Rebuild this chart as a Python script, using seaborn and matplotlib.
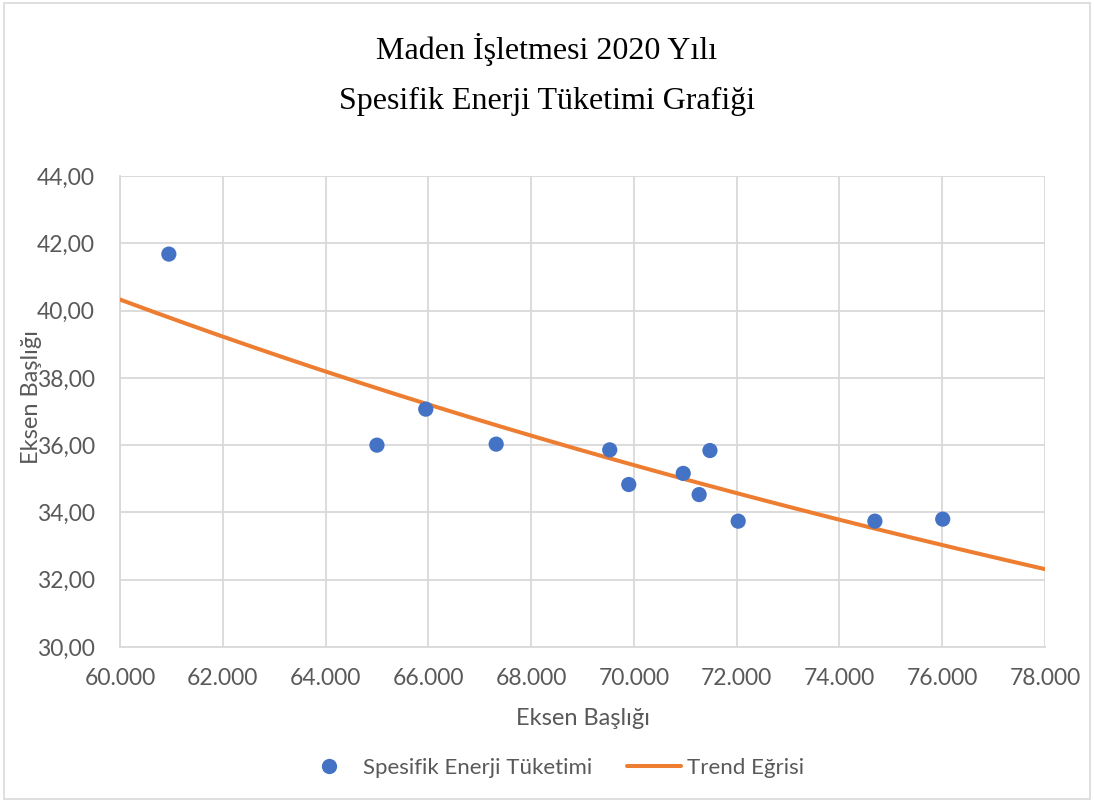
import numpy as np
import pandas as pd
import matplotlib
matplotlib.use("Agg")
import matplotlib.pyplot as plt
import seaborn as sns
from matplotlib.ticker import FuncFormatter, MultipleLocator
from matplotlib.lines import Line2D
from matplotlib.patches import Rectangle

# Monthly production (x) and specific energy consumption (y)
uretim = [60950, 65000, 65950, 67320, 69530, 69900, 70960, 71270, 71480, 72030, 74690, 76010]
spesifik_enerji = [41.68, 36.00, 37.07, 36.03, 35.86, 34.83, 35.16, 34.53, 35.84, 33.74, 33.74, 33.80]

baslik = "Maden İşletmesi 2020 Yılı\nSpesifik Enerji Tüketimi Grafiği"
seri_adi = "Spesifik Enerji Tüketimi"
trend_adi = "Trend Eğrisi"
eksen_basligi = "Eksen Başlığı"

sns.set_theme(style="white")
plt.rcParams["font.family"] = ["Lato", "DejaVu Sans"]

BLUE = "#4472C4"
ORANGE = "#ED7D31"
GRID = "#D9D9D9"
TXT = "#595959"

df = pd.DataFrame({"x": uretim, "y": spesifik_enerji})

# Power trend line (y = a * x^b) fitted in log-log space, extended over the whole axis
b, ln_a = np.polyfit(np.log(df["x"]), np.log(df["y"]), 1)
tx = np.linspace(60000, 78000, 200)
trend = pd.DataFrame({"x": tx, "y": np.exp(ln_a) * tx ** b})

fig = plt.figure(figsize=(10.94, 8.02), dpi=100)
ax = fig.add_axes([0.1097, 0.1933, 0.8455, 0.5872])

sns.lineplot(data=trend, x="x", y="y", ax=ax, color=ORANGE, linewidth=2.9,
             zorder=3, legend=False)
sns.scatterplot(data=df, x="x", y="y", ax=ax, color=BLUE, s=120,
                edgecolor="none", zorder=4, legend=False)

ax.set_xlim(60000, 78000)
ax.set_ylim(30, 44)
ax.xaxis.set_major_locator(MultipleLocator(2000))
ax.yaxis.set_major_locator(MultipleLocator(2))
ax.xaxis.set_major_formatter(FuncFormatter(lambda v, p: f"{v:,.0f}".replace(",", ".")))
ax.yaxis.set_major_formatter(FuncFormatter(lambda v, p: f"{v:.2f}".replace(".", ",")))
ax.grid(True, color=GRID, linewidth=1.3)
ax.set_axisbelow(True)
for side in ["top", "right"]:
    ax.spines[side].set_visible(False)
for side in ["left", "bottom"]:
    ax.spines[side].set_color(GRID)
    ax.spines[side].set_linewidth(1.3)
ax.tick_params(axis="both", length=0, labelsize=16.5, labelcolor=TXT)
ax.tick_params(axis="y", pad=18)
ax.tick_params(axis="x", pad=15)

ax.set_xlabel(eksen_basligi, fontsize=17, color=TXT, labelpad=14)
ax.set_ylabel(eksen_basligi, fontsize=17, color=TXT)
ax.yaxis.set_label_coords(-0.084, 0.531)

fig.text(0.5, 0.907, baslik, ha="center", va="center", fontsize=23,
         family=["Liberation Serif", "DejaVu Serif"], color="black", linespacing=1.98)

handles = [
    Line2D([], [], marker="o", linestyle="none", markersize=11,
           markerfacecolor=BLUE, markeredgecolor="none"),
    Line2D([], [], color=ORANGE, linewidth=2.9),
]
fig.legend(handles, [seri_adi, trend_adi], loc="center", bbox_to_anchor=(0.506, 0.043),
           ncol=2, frameon=False, fontsize=16, labelcolor=TXT,
           handlelength=2.4, columnspacing=1.6, handletextpad=0.3)

# Chart area border
fig.patches.append(Rectangle((0.004, 0.004), 0.992, 0.992, transform=fig.transFigure,
                             fill=False, edgecolor=GRID, linewidth=1.2))

fig.savefig("out.png", dpi=100)
